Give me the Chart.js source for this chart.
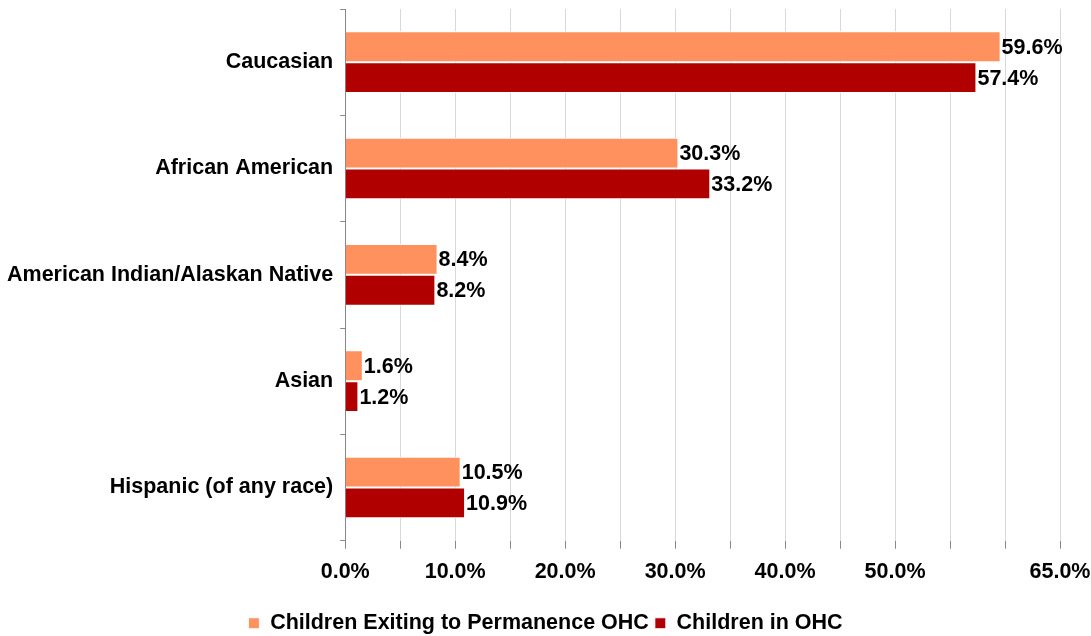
<!DOCTYPE html>
<html>
<head>
<meta charset="utf-8">
<script src="https://cdn.jsdelivr.net/npm/chart.js@4"></script>
<style>
html,body{margin:0;padding:0;background:#fff;}
#wrap{width:1091px;height:636px;}
</style>
</head>
<body>
<div id="wrap"><canvas id="c" width="1091" height="636"></canvas></div>
<script>
const categories = ["Caucasian", "African American", "American Indian/Alaskan Native", "Asian", "Hispanic (of any race)"];
const exitingValues = [59.6, 30.3, 8.4, 1.6, 10.5];
const inOhcValues = [57.4, 33.2, 8.2, 1.2, 10.9];
const seriesNames = ["Children Exiting to Permanence OHC", "Children in OHC"];
const shownTicks = [0, 10, 20, 30, 40, 50, 65];

const FONT = "'Liberation Sans', Arial, sans-serif";
const FS = 21.5;

const labelPlugin = {
  id: 'barLabels',
  afterDatasetsDraw(chart) {
    const ctx = chart.ctx;
    ctx.save();
    ctx.font = "bold " + FS + "px " + FONT;
    ctx.fillStyle = '#000';
    ctx.textAlign = 'left';
    ctx.textBaseline = 'middle';
    chart.data.datasets.forEach((ds, i) => {
      const meta = chart.getDatasetMeta(i);
      meta.data.forEach((bar, j) => {
        ctx.fillText(ds.data[j].toFixed(1) + '%', bar.x + 1, bar.y + 1);
      });
    });
    ctx.restore();
  }
};

new Chart(document.getElementById('c'), {
  type: 'bar',
  data: {
    labels: categories,
    datasets: [
      { label: seriesNames[0], data: exitingValues, backgroundColor: '#FF915E', borderColor: '#ffffff', borderWidth: 1, categoryPercentage: 0.58, barPercentage: 1.0 },
      { label: seriesNames[1], data: inOhcValues, backgroundColor: '#B00000', borderColor: '#ffffff', borderWidth: 1, categoryPercentage: 0.58, barPercentage: 1.0 }
    ]
  },
  options: {
    indexAxis: 'y',
    responsive: false,
    animation: false,
    layout: { padding: { top: 9, left: 0, right: 0, bottom: -8 } },
    scales: {
      x: {
        min: 0, max: 65,
        afterFit: (s) => { s.paddingRight = 31; s.paddingLeft = 0; s.height += 12; },
        ticks: {
          stepSize: 5,
          autoSkip: false,
          maxRotation: 0,
          color: '#000',
          font: { family: FONT, size: FS, weight: 'bold' },
          padding: 10,
          callback: (v) => shownTicks.includes(v) ? v.toFixed(1) + '%' : ''
        },
        grid: { color: '#d9d9d9', tickColor: '#888', tickLength: 8, drawTicks: true },
        border: { display: false }
      },
      y: {
        afterFit: (s) => { s.paddingTop = 0; s.paddingBottom = 0; },
        ticks: {
          color: '#000',
          font: { family: FONT, size: FS, weight: 'bold' },
          padding: 7
        },
        grid: { drawOnChartArea: false, tickColor: '#888', tickLength: 5, offset: true },
        border: { display: true, color: '#888' }
      }
    },
    plugins: {
      legend: {
        position: 'bottom',
        labels: {
          boxWidth: 11, boxHeight: 11, padding: 6,
          color: '#000',
          font: { family: FONT, size: FS, weight: 'bold' }
        }
      },
      tooltip: { enabled: false }
    }
  },
  plugins: [labelPlugin]
});
</script>
</body>
</html>
